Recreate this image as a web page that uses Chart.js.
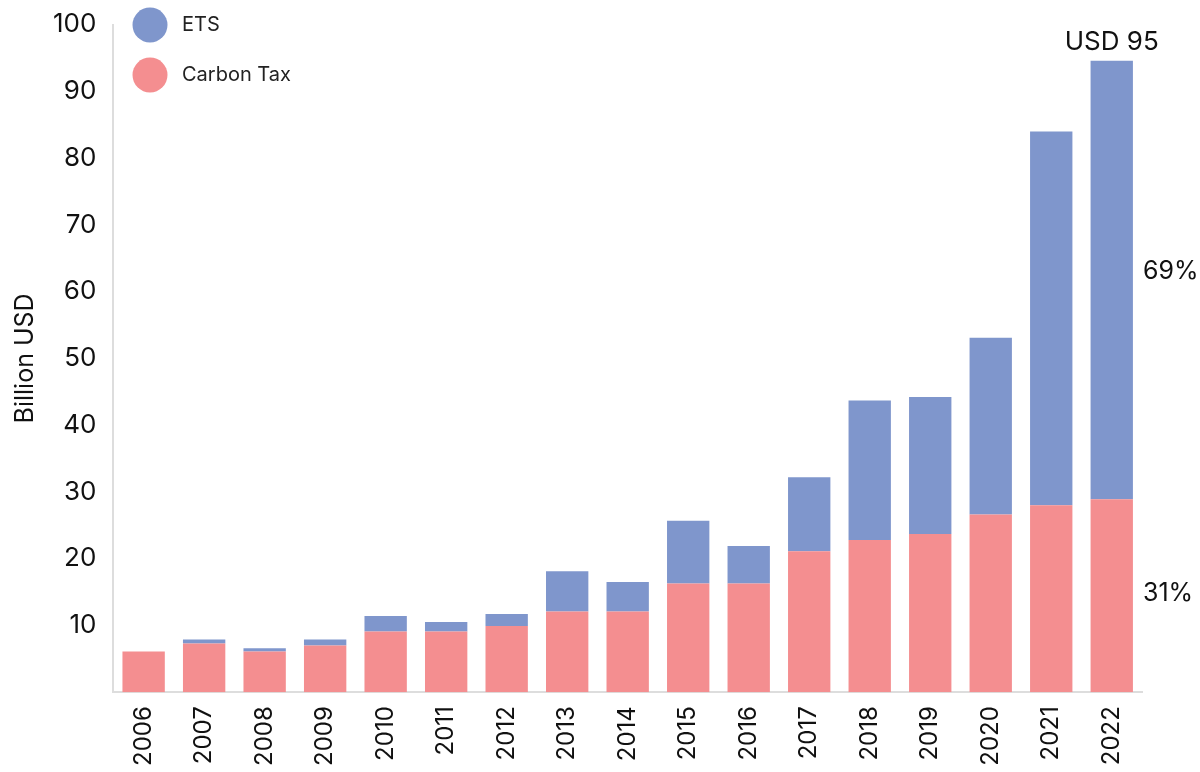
<!DOCTYPE html>
<html>
<head>
<meta charset="utf-8">
<script src="https://cdn.jsdelivr.net/npm/chart.js@4/dist/chart.umd.min.js"></script>
<style>
  html, body { margin: 0; padding: 0; background: #fff; }
  #wrap { width: 1200px; height: 772px; }
</style>
</head>
<body>
<div id="wrap"><canvas id="chart"></canvas></div>
<script>
const years = ['2006','2007','2008','2009','2010','2011','2012','2013','2014','2015','2016','2017','2018','2019','2020','2021','2022'];
const carbonTax = [6.1, 7.3, 6.1, 7.0, 9.1, 9.1, 9.9, 12.1, 12.1, 16.3, 16.3, 21.1, 22.8, 23.7, 26.6, 28.0, 28.9];
const ets = [0, 0.6, 0.5, 0.9, 2.3, 1.4, 1.8, 6.0, 4.4, 9.4, 5.6, 11.1, 20.9, 20.5, 26.5, 56.0, 65.7];
const totalLabel = 'USD 95';

const FONT = 'Inter, "Noto Sans", sans-serif';
const ETS_COLOR = '#7f96cc';
const TAX_COLOR = '#f48e90';

// legend + right side annotations
const extras = {
  id: 'extras',
  afterDraw(chart) {
    const ctx = chart.ctx;
    const x = chart.scales.x, y = chart.scales.y;
    const area = chart.chartArea;
    ctx.save();
    ctx.font = '20px ' + FONT;
    ctx.textBaseline = 'middle';
    ctx.textAlign = 'left';
    const items = [[chart.data.datasets[1].label, ETS_COLOR, 25], [chart.data.datasets[0].label, TAX_COLOR, 75]];
    items.forEach(([label, color, cy]) => {
      ctx.fillStyle = color;
      ctx.beginPath();
      ctx.arc(150, cy, 17.5, 0, Math.PI * 2);
      ctx.fill();
      ctx.fillStyle = '#222';
      ctx.fillText(label, 182, cy);
    });

    const last = years.length - 1;
    const tax = carbonTax[last], e = ets[last], tot = tax + e;
    ctx.font = '26px ' + FONT;
    ctx.fillStyle = '#111';
    ctx.textAlign = 'center';
    ctx.textBaseline = 'bottom';
    ctx.fillText(totalLabel, x.getPixelForValue(last), y.getPixelForValue(tot) - 5);

    ctx.font = '25px ' + FONT;
    ctx.textAlign = 'left';
    ctx.textBaseline = 'middle';
    const px = area.right + 1;
    ctx.fillText(Math.round(e / tot * 100) + '%', px, (y.getPixelForValue(tot) + y.getPixelForValue(tax)) / 2 - 8);
    ctx.fillText(Math.round(tax / tot * 100) + '%', px, (y.getPixelForValue(tax) + y.getPixelForValue(0)) / 2 - 2);
    ctx.restore();
  }
};

new Chart(document.getElementById('chart'), {
  type: 'bar',
  data: {
    labels: years,
    datasets: [
      { label: 'Carbon Tax', data: carbonTax, backgroundColor: TAX_COLOR, categoryPercentage: 1, barPercentage: 0.7 },
      { label: 'ETS', data: ets, backgroundColor: ETS_COLOR, categoryPercentage: 1, barPercentage: 0.7 }
    ]
  },
  options: {
    responsive: true,
    maintainAspectRatio: false,
    animation: false,
    layout: { padding: { top: 1, right: 58, left: 0, bottom: 0 } },
    plugins: { legend: { display: false }, tooltip: { enabled: false } },
    scales: {
      x: {
        stacked: true,
        grid: { display: false },
        border: { color: '#dddddd', width: 2 },
        ticks: { minRotation: 90, maxRotation: 90, color: '#111', font: { family: FONT, size: 24 }, padding: 6 }
      },
      y: {
        stacked: true,
        min: 0, max: 100,
        grid: { display: false },
        border: { color: '#dddddd', width: 2 },
        ticks: {
          stepSize: 10, color: '#111', font: { family: FONT, size: 26 }, padding: 9,
          callback: v => v === 0 ? '' : v
        },
        title: { display: true, text: 'Billion USD', color: '#111', font: { family: FONT, size: 25 }, padding: { top: 10, bottom: 4 } }
      }
    }
  },
  plugins: [extras]
});
</script>
</body>
</html>
